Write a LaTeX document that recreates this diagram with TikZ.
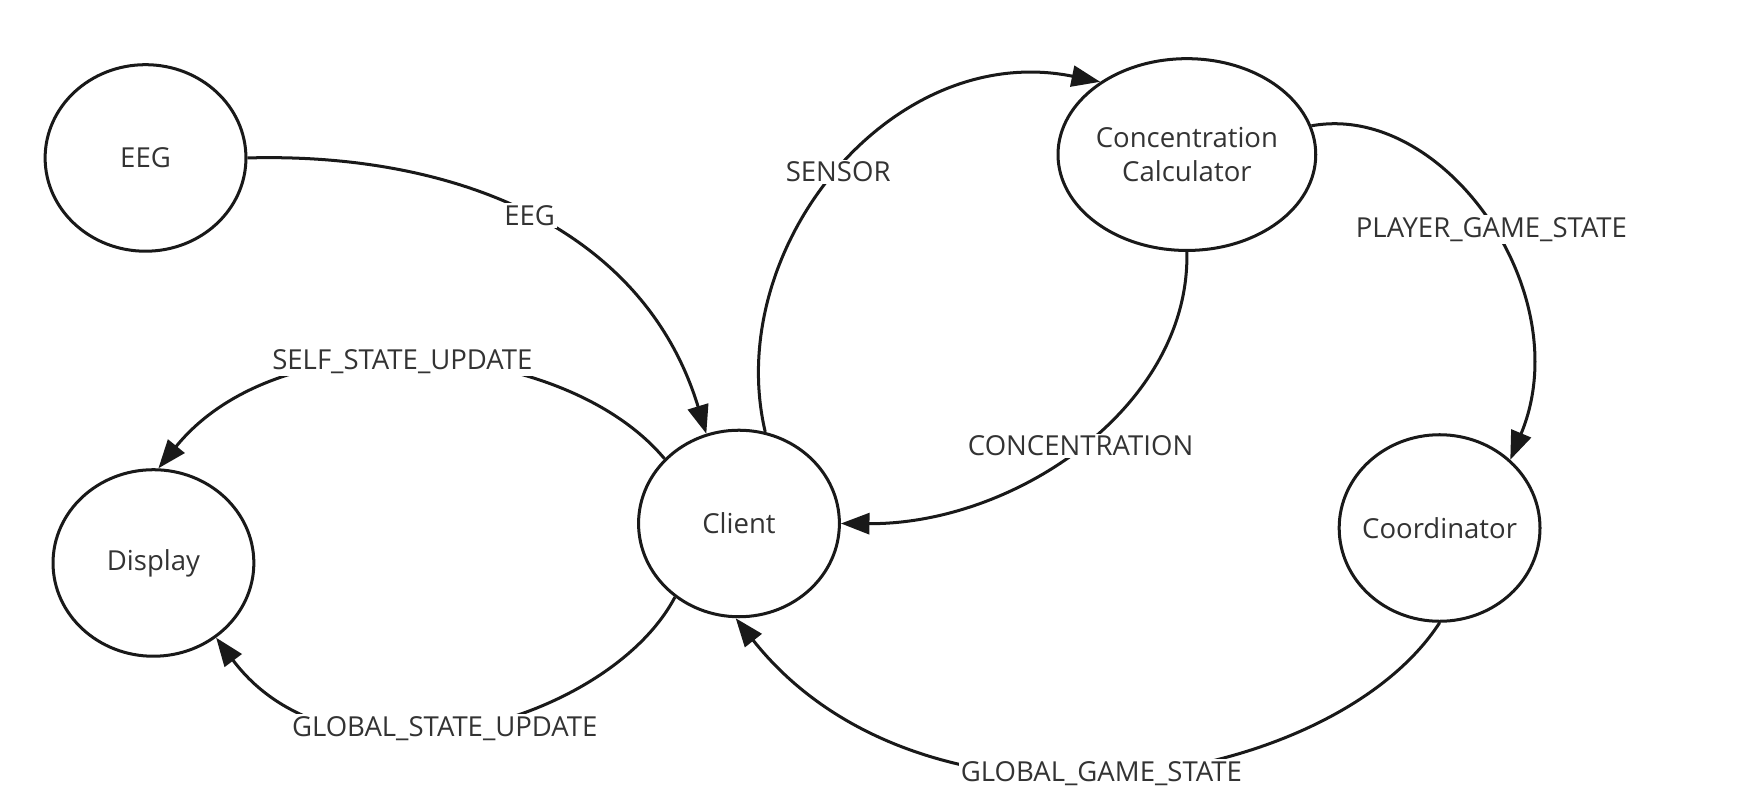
\documentclass[tikz,border=0pt]{standalone}
\usepackage{fontspec}
\setmainfont{Open Sans}
\usepackage{xcolor}
\usetikzlibrary{arrows.meta,shapes.geometric}

\begin{document}
\begin{tikzpicture}[x=0.75pt,y=0.75pt,yscale=-1,xscale=1,
  state/.style={draw=black!90, line width=2pt, ellipse, minimum width=133.5pt, minimum height=124pt, inner sep=0pt, text=black!80, font=\fontsize{18.3}{22}\selectfont, align=center},
  flow/.style={draw=black!90, line width=2pt, -{Triangle[length=19pt,width=14pt]}},
  lbl/.style={fill=white, inner sep=1.5pt, text=black!80, font=\fontsize{18.3}{22}\selectfont}]
\useasboundingbox (0,0) rectangle (1560,713);

% States
\node[state] (eeg) at (129,140) {EEG};
\node[state] (display) at (136,499) {Display};
\node[state] (client) at (655,464) {Client};
\node[state, minimum width=171pt, minimum height=127.5pt] (calc) at (1052,137) {Concentration\\Calculator};
\node[state, inner xsep=-9pt] (coord) at (1276,468) {Coordinator};

% Flows
\draw[flow] (eeg.east) .. controls (400,135) and (570,200) .. (client.110) node[lbl,pos=0.5] {EEG};
\draw[flow] (client.139) .. controls (500,300) and (250,280) .. (display.87) node[lbl,pos=0.53] {SELF\_STATE\_UPDATE};
\draw[flow] (client.229) .. controls (540,640) and (300,710) .. (display.310) node[lbl,pos=0.54] {GLOBAL\_STATE\_UPDATE};
\draw[flow] (client.74) .. controls (640,220) and (790,35) .. (calc.140) node[lbl,pos=0.5] {SENSOR};
\draw[flow] (calc.270) .. controls (1055,360) and (900,465) .. (client.east) node[lbl,pos=0.5] {CONCENTRATION};
\draw[flow] (calc.13) .. controls (1280,90) and (1400,260) .. (coord.44) node[lbl,pos=0.52] {PLAYER\_GAME\_STATE};
\draw[flow] (coord.270) .. controls (1180,700) and (820,760) .. (client.268) node[lbl,pos=0.52] {GLOBAL\_GAME\_STATE};

\end{tikzpicture}
\end{document}
